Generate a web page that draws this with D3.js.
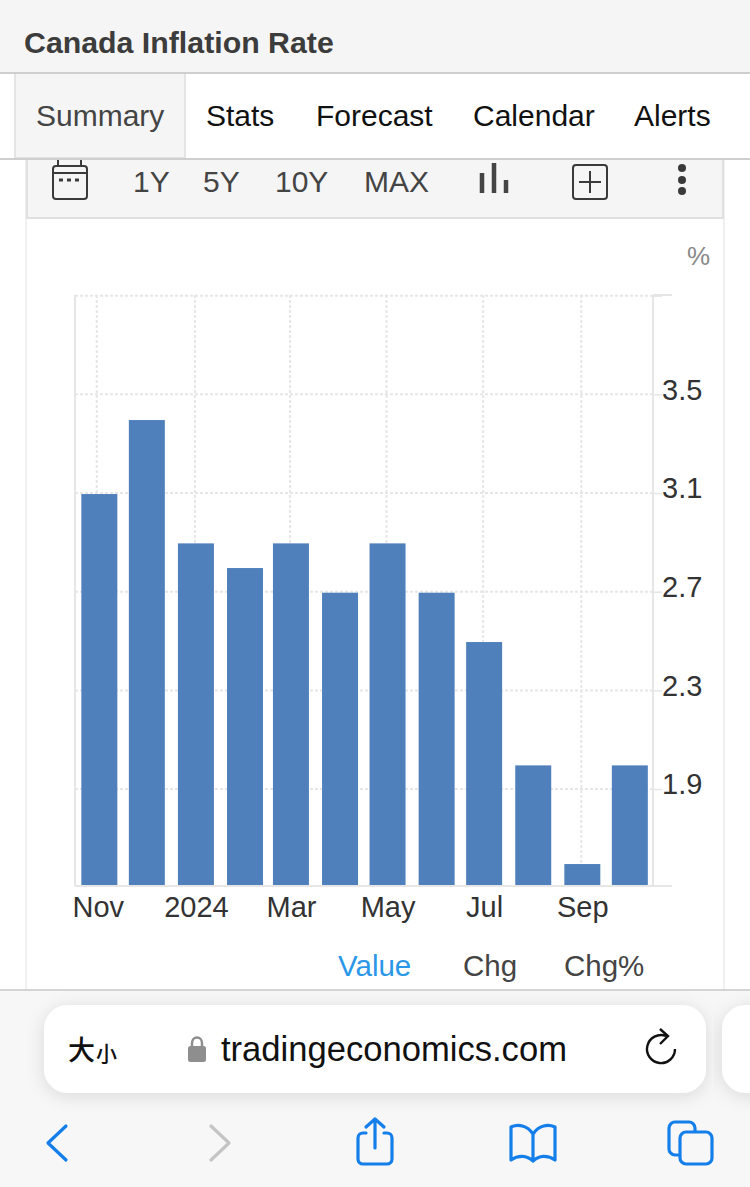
<!DOCTYPE html>
<html>
<head>
<meta charset="utf-8">
<script src="https://cdn.jsdelivr.net/npm/d3@7"></script>
<style>
  html, body { margin: 0; padding: 0; background: #fff; overflow: hidden; }
  svg { display: block; font-family: "Liberation Sans", Arial, sans-serif; }
  .grid line { stroke: #e6e6e6; stroke-width: 2; stroke-dasharray: 3 2; }
  .axis path { display: none; }
  .axis line { stroke: #e6e6e6; stroke-width: 1.5; }
  .axis text { font-size: 29px; fill: #333; font-family: "Liberation Sans", Arial, sans-serif; }
</style>
</head>
<body>
<div id="chart"></div>
<script>
// data
const months = ["2023-11-01", "2023-12-01", "2024-01-01", "2024-02-01", "2024-03-01", "2024-04-01",
  "2024-05-01", "2024-06-01", "2024-07-01", "2024-08-01", "2024-09-01", "2024-10-01"];
const values = [3.1, 3.4, 2.9, 2.8, 2.9, 2.7, 2.9, 2.7, 2.5, 2.0, 1.6, 2.0];
const yTicks = [1.9, 2.3, 2.7, 3.1, 3.5, 3.9];
const yLabels = ["1.9", "2.3", "2.7", "3.1", "3.5", ""];
const xTickMonths = ["2023-10-31", "2024-01-01", "2024-03-01", "2024-05-01", "2024-07-01", "2024-09-01"];
const xLabels = ["Nov", "2024", "Mar", "May", "Jul", "Sep"];
const tabs = ["Summary", "Stats", "Forecast", "Calendar", "Alerts"];
const ranges = ["1Y", "5Y", "10Y", "MAX"];
const modes = ["Value", "Chg", "Chg%"];

const width = 750, height = 1187;
const margin = { top: 295, right: 97, bottom: 301, left: 75 };
const barWidth = 36;

const svg = d3.select("#chart").append("svg").attr("width", width).attr("height", height);

////////////////////////////  page header  ////////////////////////////
svg.append("rect").attr("width", width).attr("height", 72).attr("fill", "#f5f5f5");
svg.append("text").attr("x", 24).attr("y", 53).attr("font-size", 30.3).attr("font-weight", 700)
  .attr("fill", "#3c3c3c").text("Canada Inflation Rate");

svg.append("rect").attr("x", 15).attr("y", 73).attr("width", 170).attr("height", 85)
  .attr("fill", "#f5f5f5").attr("stroke", "#dedede").attr("stroke-width", 1.5);
svg.append("line").attr("x1", 0).attr("x2", width).attr("y1", 73).attr("y2", 73)
  .attr("stroke", "#cfcfcf").attr("stroke-width", 2);
svg.append("line").attr("x1", 0).attr("x2", width).attr("y1", 159).attr("y2", 159)
  .attr("stroke", "#cfcfcf").attr("stroke-width", 2);

const tabX = [36, 206, 316, 473, 634];
svg.selectAll(".tab").data(tabs).enter().append("text").attr("class", "tab")
  .attr("x", (d, i) => tabX[i]).attr("y", 126).attr("font-size", 30)
  .attr("fill", (d, i) => (i === 0 ? "#444" : "#111")).text((d) => d);

// card edges + toolbar
svg.append("line").attr("x1", 26).attr("x2", 26).attr("y1", 160).attr("y2", 990).attr("stroke", "#f0f0f0").attr("stroke-width", 2);
svg.append("line").attr("x1", 724).attr("x2", 724).attr("y1", 160).attr("y2", 990).attr("stroke", "#f0f0f0").attr("stroke-width", 2);
svg.append("rect").attr("x", 26).attr("y", 160).attr("width", 698).attr("height", 58)
  .attr("fill", "#f5f5f5");
svg.append("path").attr("d", "M27,160V218H723V160").attr("fill", "none").attr("stroke", "#e0e0e0").attr("stroke-width", 2);

const rangeX = [133, 203, 275, 364];
svg.selectAll(".range").data(ranges).enter().append("text").attr("class", "range")
  .attr("x", (d, i) => rangeX[i]).attr("y", 192).attr("font-size", 30)
  .attr("fill", "#444").text((d) => d);

const icons = svg.append("g").attr("fill", "none").attr("stroke", "#3a3a3a").attr("stroke-width", 2);
// calendar
icons.append("rect").attr("x", 53).attr("y", 166).attr("width", 34).attr("height", 33).attr("rx", 3);
icons.append("path").attr("d", "M53,173H87M58,160V166M81,160V166");
icons.append("path").attr("d", "M59,180H79").attr("stroke-width", 3).attr("stroke-dasharray", "4 4");
// bar type
icons.append("path").attr("d", "M482,193V173M494,193V163M506,193V180").attr("stroke-width", 4.5).attr("stroke", "#444");
// compare
icons.append("rect").attr("x", 573).attr("y", 165).attr("width", 34).attr("height", 34).attr("rx", 3);
icons.append("path").attr("d", "M590,171V193M579,182H601");
// menu dots
svg.selectAll(".menu-dot").data([168, 180, 191]).enter().append("circle").attr("class", "menu-dot")
  .attr("cx", 682).attr("cy", (d) => d).attr("r", 4).attr("fill", "#3a3a3a");

svg.append("text").attr("x", 687).attr("y", 265).attr("font-size", 26).attr("fill", "#8a8a8a").text("%");

////////////////////////////  chart  ////////////////////////////
const parseDate = d3.utcParse("%Y-%m-%d");
const dates = months.map(parseDate);
const tickDates = xTickMonths.map(parseDate);

const xScale = d3.scaleUtc()
  .domain([parseDate("2023-10-16"), parseDate("2024-10-15")])
  .range([margin.left - 1, width - margin.right - 1]);
const yScale = d3.scaleLinear()
  .domain([1.511, 3.9])
  .range([height - margin.bottom, margin.top + 1.7]);

// gridlines sit a pixel up and left of the bars
const gridY = svg.append("g").attr("class", "grid").attr("transform", "translate(0,-1)");
gridY.selectAll("line").data(yTicks).enter().append("line")
  .attr("x1", margin.left).attr("x2", width - margin.right)
  .attr("y1", (d) => yScale(d)).attr("y2", (d) => yScale(d));
const gridX = svg.append("g").attr("class", "grid").attr("transform", "translate(-1,0)");
gridX.selectAll("line").data(tickDates).enter().append("line")
  .attr("x1", (d) => xScale(d)).attr("x2", (d) => xScale(d))
  .attr("y1", margin.top).attr("y2", height - margin.bottom);

// bars
svg.selectAll(".bar").data(values).enter().append("rect").attr("class", "bar")
  .attr("x", (d, i) => xScale(dates[i]) - barWidth / 2)
  .attr("y", (d) => yScale(d))
  .attr("width", barWidth)
  .attr("height", (d) => yScale(1.511) - yScale(d))
  .attr("fill", "#5080bc");

// axes
const xAxis = d3.axisBottom(xScale).tickValues(tickDates).tickSize(0).tickPadding(10)
  .tickFormat((d, i) => xLabels[i]);
const yAxis = d3.axisRight(yScale).tickValues(yTicks).tickSize(9).tickPadding(0)
  .tickFormat((d, i) => yLabels[i]);

svg.append("g").attr("class", "axis x-axis")
  .attr("transform", `translate(0,${height - margin.bottom})`).call(xAxis);
const yG = svg.append("g").attr("class", "axis y-axis")
  .attr("transform", `translate(${width - margin.right},-1)`).call(yAxis);
yG.selectAll("text").attr("dy", "0.16em");

const frame = svg.append("g").attr("stroke", "#e6e6e6").attr("stroke-width", 2);
frame.append("line").attr("x1", margin.left).attr("x2", margin.left).attr("y1", margin.top).attr("y2", height - margin.bottom);
frame.append("line").attr("x1", width - margin.right).attr("x2", width - margin.right).attr("y1", margin.top).attr("y2", height - margin.bottom);
frame.append("line").attr("x1", margin.left).attr("x2", 672).attr("y1", height - margin.bottom).attr("y2", height - margin.bottom);
frame.append("line").attr("x1", width - margin.right).attr("x2", 672).attr("y1", margin.top).attr("y2", margin.top);

const modeX = [338, 463, 564];
svg.selectAll(".mode").data(modes).enter().append("text").attr("class", "mode")
  .attr("x", (d, i) => modeX[i]).attr("y", 976).attr("font-size", 29.5)
  .attr("fill", (d, i) => (i === 0 ? "#2b97e8" : "#444")).text((d) => d);

////////////////////////////  browser bar  ////////////////////////////
const defs = svg.append("defs");
const shadow = defs.append("filter").attr("id", "pill-shadow").attr("x", "-10%").attr("y", "-40%").attr("width", "120%").attr("height", "180%");
shadow.append("feDropShadow").attr("dx", 0).attr("dy", 3).attr("stdDeviation", 9).attr("flood-color", "#000").attr("flood-opacity", 0.12);

svg.append("rect").attr("y", 990).attr("width", width).attr("height", height - 990).attr("fill", "#f7f7f7");
svg.append("line").attr("x1", 0).attr("x2", width).attr("y1", 990).attr("y2", 990).attr("stroke", "#c8c8c8").attr("stroke-width", 1.5);
svg.append("rect").attr("x", 44).attr("y", 1005).attr("width", 662).attr("height", 88).attr("rx", 24)
  .attr("fill", "#fff").attr("filter", "url(#pill-shadow)");
svg.append("rect").attr("x", 722).attr("y", 1005).attr("width", 80).attr("height", 88).attr("rx", 24)
  .attr("fill", "#fff").attr("filter", "url(#pill-shadow)");

const cjk = '"Noto Sans CJK SC", sans-serif';
svg.append("text").attr("x", 68).attr("y", 1060).attr("font-family", cjk).attr("font-size", 27).attr("font-weight", 500).attr("fill", "#111").text("大");
svg.append("text").attr("x", 96).attr("y", 1061).attr("font-family", cjk).attr("font-size", 21).attr("font-weight", 500).attr("fill", "#111").text("小");

// lock
svg.append("rect").attr("x", 188).attr("y", 1046).attr("width", 18).attr("height", 16).attr("rx", 2.5).attr("fill", "#8e8e8e");
svg.append("path").attr("d", "M192,1047V1043a5,5.5 0 0 1 10,0V1047").attr("fill", "none").attr("stroke", "#8e8e8e").attr("stroke-width", 2.5);
svg.append("text").attr("x", 221).attr("y", 1061).attr("font-size", 34.6).attr("fill", "#111").text("tradingeconomics.com");

// reload
svg.append("path").attr("d", "M666,1036A14,14 0 1 0 675,1049M660,1029L668,1036L660,1044")
  .attr("fill", "none").attr("stroke", "#111").attr("stroke-width", 2.4);

const blue = "#147eea";
const nav = svg.append("g").attr("fill", "none").attr("stroke", blue).attr("stroke-width", 3.2).attr("stroke-linecap", "round").attr("stroke-linejoin", "round");
nav.append("path").attr("d", "M66,1126L48,1143L66,1160");
nav.append("path").attr("d", "M211,1126L229,1143L211,1160").attr("stroke", "#c4c4c4");
// share
nav.append("path").attr("d", "M366,1133H363a5,5 0 0 0 -5,5V1159a5,5 0 0 0 5,5H387a5,5 0 0 0 5,-5V1138a5,5 0 0 0 -5,-5H384");
nav.append("path").attr("d", "M375,1148V1120M366,1127L375,1119L384,1127");
// bookmarks
nav.append("path").attr("d", "M533,1161V1134C527,1125 518,1124 511,1127V1160C518,1155 527,1155 533,1161C539,1155 548,1155 555,1160V1127C548,1124 539,1125 533,1134");
// tab copies
nav.append("path").attr("d", "M678,1155H675a6,6 0 0 1 -6,-6V1128a6,6 0 0 1 6,-6H689a6,6 0 0 1 6,6V1131");
nav.append("rect").attr("x", 680).attr("y", 1132).attr("width", 32).attr("height", 32).attr("rx", 6);
</script>
</body>
</html>
